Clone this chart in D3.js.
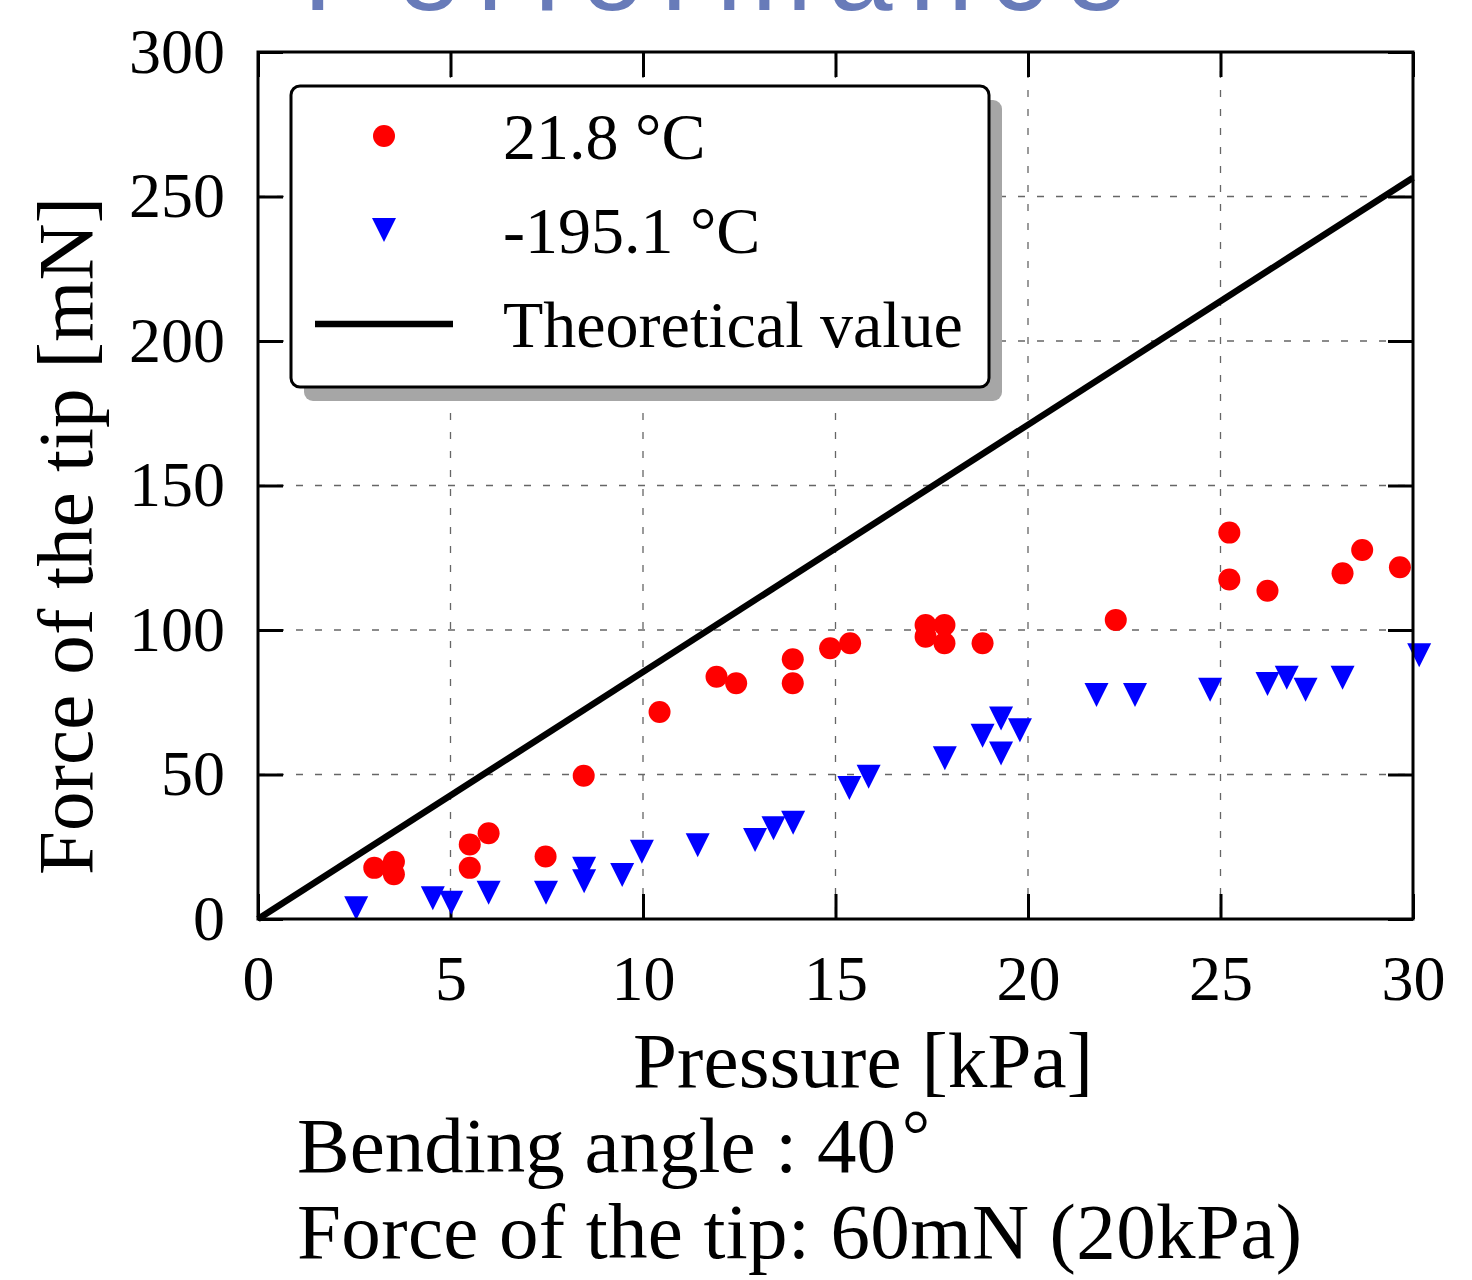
<!DOCTYPE html>
<html>
<head>
    <meta charset="utf-8">
    <title>Force of the tip vs Pressure</title>
    <script src="https://d3js.org/d3.v7.min.js"></script>
    <style>
        body {
            margin: 0;
            background: #fff;
        }

        svg {
            display: block;
            font-family: 'Liberation Serif', 'Times New Roman', serif;
        }
    </style>
</head>

<body>
    <div id="chart"></div>
    <script>
        // 21.8 °C measurements (red circles)
        const roomPressure = [3.02, 3.53, 3.53, 5.5, 5.99, 5.5, 7.47, 8.46, 10.43, 11.91, 12.42, 13.89, 13.89,
            14.86, 15.38, 17.34, 17.83, 17.34, 17.83, 18.82, 22.28, 25.23, 25.23, 26.22, 28.17, 28.68, 29.66]
        const roomForce = [17.7, 19.8, 15.5, 25.8, 29.7, 17.7, 21.6, 49.6, 71.6, 83.8, 81.6, 89.9, 81.6,
            93.7, 95.4, 101.7, 101.7, 97.7, 95.4, 95.4, 103.5, 133.7, 117.5, 113.6, 119.6, 127.7, 121.7]

        // -195.1 °C measurements (blue triangles)
        const cryoPressure = [2.55, 4.54, 5.02, 5.99, 7.48, 8.47, 8.47, 9.46, 9.97, 11.42, 12.91, 13.39, 13.9,
            15.36, 15.86, 17.84, 18.82, 19.3, 19.79, 19.3, 21.78, 22.78, 24.73, 26.22, 26.72, 27.21, 28.17, 30.16]
        const cryoForce = [3.7, 7.2, 5.6, 9.1, 9.1, 17.4, 13.1, 15.2, 23.3, 25.5, 27.3, 31.4, 33.3,
            45.3, 49.2, 55.6, 63.4, 69.4, 65.3, 57.3, 77.5, 77.5, 79.3, 81.3, 83.5, 79.3, 83.5, 91.3]

        // theoretical value
        const theoryPressure = [0, 30]
        const theoryForce = [0, 256.5]

        const xTicks = [0, 5, 10, 15, 20, 25, 30]
        const yTicks = [0, 50, 100, 150, 200, 250, 300]
        const legendLabels = ["21.8 °C", "-195.1 °C", "Theoretical value"]

        const W = 1472, H = 1280
        const m = { left: 258, top: 52, right: 1413, bottom: 919 }

        const svg = d3.select("#chart").append("svg")
            .attr("width", W)
            .attr("height", H)

        const x = d3.scaleLinear().domain([0, 30]).range([m.left, m.right])
        const y = d3.scaleLinear().domain([0, 300]).range([m.bottom, m.top])

        // title strip cut off at the top (as in the source slide)
        svg.append("text")
            .attr("x", 303)
            .attr("y", 9.5)
            .attr("textLength", 825)
            .attr("lengthAdjust", "spacing")
            .style("font-family", "'Liberation Sans', Arial, sans-serif")
            .style("font-size", "115px")
            .attr("fill", "#687bb9")
            .text("Performance")

        // grid
        const grid = svg.append("g")
            .attr("stroke", "#666")
            .attr("stroke-width", 1.3)
            .attr("stroke-dasharray", "7,12")
        grid.selectAll(".gx").data(xTicks).enter().append("line")
            .attr("x1", d => x(d)).attr("x2", d => x(d))
            .attr("y1", m.top).attr("y2", m.bottom)
        grid.selectAll(".gy").data(yTicks).enter().append("line")
            .attr("y1", d => y(d)).attr("y2", d => y(d))
            .attr("x1", m.left).attr("x2", m.right)

        // axes, ticks pointing inward
        const tickLen = 25
        function styleAxis(g) {
            g.select(".domain").remove()
            g.selectAll(".tick line").attr("stroke", "#000").attr("stroke-width", 3)
            g.selectAll(".tick text")
                .attr("fill", "#000")
                .style("font-family", "'Liberation Serif', 'Times New Roman', serif")
                .style("font-size", "64px")
        }

        svg.append("g")
            .attr("transform", `translate(0,${m.bottom})`)
            .call(d3.axisBottom(x).tickValues(xTicks).tickSize(-tickLen).tickPadding(36))
            .call(styleAxis)
        svg.append("g")
            .attr("transform", `translate(0,${m.top})`)
            .call(d3.axisTop(x).tickValues(xTicks).tickSize(-tickLen).tickFormat(""))
            .call(styleAxis)
        svg.append("g")
            .attr("transform", `translate(${m.left},0)`)
            .call(d3.axisLeft(y).tickValues(yTicks).tickSize(-tickLen).tickPadding(33))
            .call(styleAxis)
        svg.append("g")
            .attr("transform", `translate(${m.right},0)`)
            .call(d3.axisRight(y).tickValues(yTicks).tickSize(-tickLen).tickFormat(""))
            .call(styleAxis)

        // theoretical line
        const line = d3.line().x(d => x(d[0])).y(d => y(d[1]))
        svg.append("path")
            .datum(d3.zip(theoryPressure, theoryForce))
            .attr("d", line)
            .attr("fill", "none")
            .attr("stroke", "#000")
            .attr("stroke-width", 6.5)

        // markers
        const triPath = "M-12,-12L12,-12L0,12Z"
        svg.append("g").selectAll("path")
            .data(d3.zip(cryoPressure, cryoForce))
            .enter().append("path")
            .attr("d", triPath)
            .attr("transform", d => `translate(${x(d[0])},${y(d[1])})`)
            .attr("fill", "#0000ff")

        svg.append("g").selectAll("circle")
            .data(d3.zip(roomPressure, roomForce))
            .enter().append("circle")
            .attr("cx", d => x(d[0]))
            .attr("cy", d => y(d[1]))
            .attr("r", 11)
            .attr("fill", "#ff0000")

        // frame
        svg.append("rect")
            .attr("x", m.left).attr("y", m.top)
            .attr("width", m.right - m.left).attr("height", m.bottom - m.top)
            .attr("fill", "none")
            .attr("stroke", "#000")
            .attr("stroke-width", 3)

        // legend
        const legend = svg.append("g").attr("id", "legend")
        legend.append("rect")
            .attr("x", 304).attr("y", 100)
            .attr("width", 698).attr("height", 301)
            .attr("rx", 9)
            .attr("fill", "#a6a6a6")
        legend.append("rect")
            .attr("x", 291).attr("y", 86)
            .attr("width", 698).attr("height", 301)
            .attr("rx", 9)
            .attr("fill", "#fff")
            .attr("stroke", "#000")
            .attr("stroke-width", 3)

        const rowY = [136, 230, 324]
        legend.append("circle")
            .attr("cx", 384).attr("cy", rowY[0]).attr("r", 11)
            .attr("fill", "#ff0000")
        legend.append("path")
            .attr("d", triPath)
            .attr("transform", `translate(384,${rowY[1]})`)
            .attr("fill", "#0000ff")
        legend.append("line")
            .attr("x1", 315).attr("x2", 453)
            .attr("y1", rowY[2]).attr("y2", rowY[2])
            .attr("stroke", "#000")
            .attr("stroke-width", 6.5)
        legend.selectAll("text")
            .data(legendLabels)
            .enter().append("text")
            .attr("x", 503)
            .attr("y", (d, i) => rowY[i] + 23)
            .style("font-size", "66px")
            .text(d => d)

        // axis labels
        svg.append("text")
            .attr("x", 633)
            .attr("y", 1087)
            .attr("textLength", 460)
            .style("font-size", "79px")
            .text("Pressure [kPa]")

        svg.append("text")
            .attr("transform", "translate(92,875) rotate(-90)")
            .attr("textLength", 678)
            .style("font-size", "79px")
            .text("Force of the tip [mN]")

        // notes under the chart
        const note1 = svg.append("text")
            .attr("x", 297)
            .attr("y", 1172)
            .style("font-size", "79px")
        note1.append("tspan").text("Bending angle : 40")
        note1.append("tspan").attr("dy", -14).attr("dx", 6).style("font-size", "70px").text("°")

        svg.append("text")
            .attr("x", 297)
            .attr("y", 1258)
            .attr("textLength", 1005)
            .style("font-size", "79px")
            .text("Force of the tip: 60mN (20kPa)")
    </script>
</body>

</html>
